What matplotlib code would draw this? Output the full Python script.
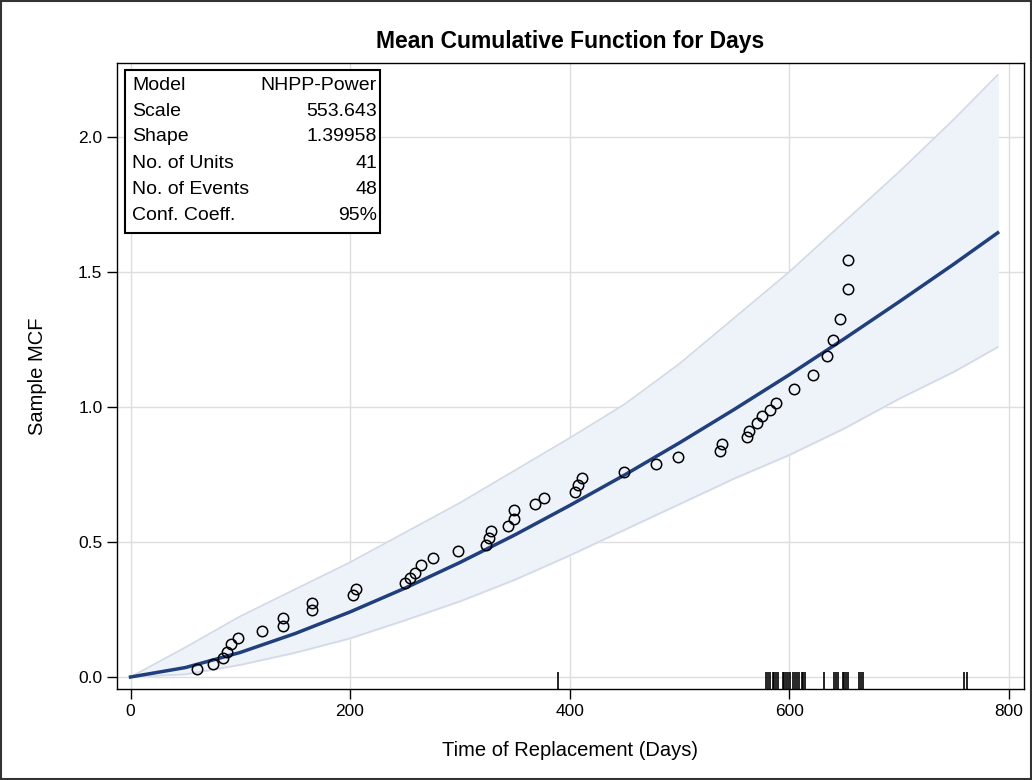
import numpy as np
import matplotlib
matplotlib.use("Agg")
import matplotlib.pyplot as plt
from matplotlib.patches import Rectangle

plt.rcParams['font.family'] = ['Liberation Sans', 'DejaVu Sans']

# fitted NHPP power curve and confidence band
t_grid = [0, 50, 100, 150, 200, 250, 300, 350, 400, 450, 500, 550, 600, 650, 700, 750, 790]
mcf_fit = [0.0, 0.035, 0.091, 0.161, 0.241, 0.329, 0.424, 0.526, 0.635, 0.748, 0.867, 0.991, 1.119, 1.252, 1.389, 1.529, 1.645]
mcf_upper = [0.0, 0.11, 0.225, 0.325, 0.425, 0.535, 0.645, 0.765, 0.885, 1.01, 1.16, 1.33, 1.50, 1.685, 1.87, 2.065, 2.23]
mcf_lower = [0.0, 0.01, 0.045, 0.09, 0.143, 0.21, 0.28, 0.36, 0.45, 0.545, 0.64, 0.735, 0.822, 0.92, 1.03, 1.13, 1.222]

# sample MCF at each replacement
event_days = [61, 75.5, 84.6, 87.6, 91.6, 98.2, 120, 138.7, 138.7, 165.7, 165.7, 203, 205.5,
              250, 254.6, 259, 265, 276, 298.7, 324, 327, 328.5, 344, 349.5, 349.5, 368.6,
              377, 405, 408, 411.7, 450, 479, 498.6, 537, 539, 561.7, 563.6, 571, 575.4,
              582.7, 588.2, 604.5, 621.9, 634.6, 640, 646.5, 653.8, 653.8]
sample_mcf = [0.029, 0.048, 0.071, 0.094, 0.121, 0.146, 0.172, 0.19, 0.22, 0.248, 0.275, 0.304,
              0.325, 0.347, 0.365, 0.384, 0.415, 0.442, 0.468, 0.489, 0.514, 0.54, 0.56, 0.584,
              0.618, 0.64, 0.664, 0.686, 0.711, 0.736, 0.76, 0.788, 0.814, 0.837, 0.863, 0.89,
              0.91, 0.94, 0.965, 0.99, 1.015, 1.067, 1.118, 1.19, 1.248, 1.326, 1.437, 1.545]

# end-of-observation times (rug)
censor_days = [389.5, 578.7, 580.6, 582.7, 585.1, 586.6, 588.4, 590.2, 594.2, 595.7, 597.3,
               598.8, 600.9, 603.3, 605.5, 607, 609.4, 611.6, 613.1, 614.6, 631.9, 641.3,
               642.8, 644.3, 648.7, 650.1, 651.7, 653.5, 663.8, 665.6, 667.7, 759.7, 761.9]

table_labels = ['Model', 'Scale', 'Shape', 'No. of Units', 'No. of Events', 'Conf. Coeff.']
table_values = ['NHPP-Power', '553.643', '1.39958', '41', '48', '95%']

fig = plt.figure(figsize=(10.32, 7.8), dpi=100)
ax = fig.add_axes([117 / 1032, 1 - 689 / 780, (1024 - 117) / 1032, (689 - 63) / 780])

ax.fill_between(t_grid, mcf_lower, mcf_upper, color='#eef3fa', zorder=1)
ax.plot(t_grid, mcf_upper, color='#d3dae6', lw=1.2, zorder=2)
ax.plot(t_grid, mcf_lower, color='#d3dae6', lw=1.2, zorder=2)
ax.plot(t_grid, mcf_fit, color='#203f7c', lw=2.5, zorder=3)
ax.plot(event_days, sample_mcf, 'o', mfc='none', mec='black', ms=7.5, mew=1.1, zorder=4)
ax.vlines(censor_days, 0, 0.027, transform=ax.get_xaxis_transform(), color='black', lw=1.2, zorder=4)

ax.set_xlim(-12.3, 814)
ax.set_ylim(-0.0444, 2.274)
ax.set_xticks([0, 200, 400, 600, 800])
ax.set_yticks([0.0, 0.5, 1.0, 1.5, 2.0])
ax.set_yticklabels(['0.0', '0.5', '1.0', '1.5', '2.0'])
ax.grid(True, color='#dedede', lw=1)
ax.set_axisbelow(True)
ax.tick_params(direction='out', length=7, width=1, labelsize=12.5, colors='black')
for s in ax.spines.values():
    s.set_color('black')
    s.set_linewidth(1)

ax.set_xlabel('Time of Replacement (Days)', fontsize=14.5, labelpad=16)
ax.set_ylabel('Sample MCF', fontsize=14.5, labelpad=22)
ax.set_title('Mean Cumulative Function for Days', fontsize=16.5, fontweight='bold', pad=11)

# inset statistics table
ax.add_patch(Rectangle((125 / 1032, 1 - 233 / 780), 255 / 1032, 163 / 780, transform=fig.transFigure,
                       facecolor='white', edgecolor='black', lw=1.5, zorder=5))
row_y = [85.7, 111.7, 136.7, 163.3, 189.3, 216]
for lab, val, yy in zip(table_labels, table_values, row_y):
    fig.text(132 / 1032, 1 - yy / 780, lab, fontsize=14, ha='left', va='center', zorder=6)
    fig.text(377 / 1032, 1 - yy / 780, val, fontsize=14, ha='right', va='center', zorder=6)

fig.patches.append(Rectangle((0.001, 0.001), 0.998, 0.998, transform=fig.transFigure,
                             fill=False, edgecolor='#333333', lw=1.5))

fig.savefig('out.png', dpi=100)
